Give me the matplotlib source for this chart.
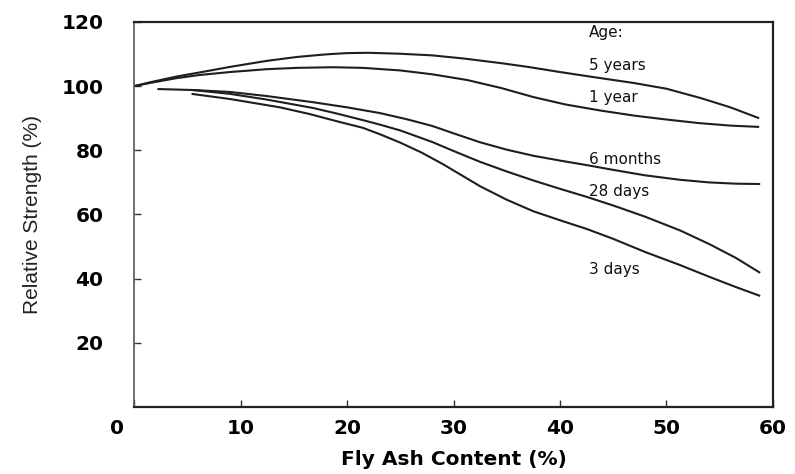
import matplotlib
matplotlib.use("Agg")
import matplotlib.pyplot as plt
from matplotlib.transforms import ScaledTranslation

# Data (Fly Ash Content %, Relative Strength %)
x_5y = [0, 1.5, 4, 6.2, 9, 12.5, 15.3, 18, 20, 22, 25, 28, 31, 34.4, 37, 40, 43, 46.9, 50, 53.2, 56, 58.7]
y_5y = [100, 101.2, 103.0, 104.3, 106, 107.9, 109.1, 109.9, 110.3, 110.4, 110.1, 109.6, 108.6, 107.2, 106.0, 104.4, 102.9, 101, 99.2, 96.3, 93.4, 90]

x_1y = [0, 1.5, 4, 6.2, 9, 12.5, 15.3, 18.7, 21.5, 25, 28, 31.3, 34.5, 37.5, 40.5, 43.8, 47, 50, 53, 56, 58.7]
y_1y = [100, 101.0, 102.5, 103.5, 104.4, 105.3, 105.7, 105.9, 105.7, 104.9, 103.7, 101.9, 99.4, 96.6, 94.3, 92.4, 90.8, 89.6, 88.5, 87.7, 87.3]

x_6m = [2.2, 5.5, 9, 12.5, 16.8, 20, 23.1, 25.6, 28, 30, 32.5, 35, 37.5, 40, 42.5, 45, 48, 51.3, 54, 56.5, 58.8]
y_6m = [99.1, 98.8, 98.2, 96.9, 95.0, 93.4, 91.6, 89.7, 87.6, 85.3, 82.5, 80.2, 78.3, 76.8, 75.4, 73.9, 72.2, 70.8, 70.0, 69.6, 69.5]

x_28d = [5.5, 9, 12.5, 16.8, 19, 21.5, 23.1, 25, 28, 30, 32.5, 35, 37.5, 40, 42.5, 45, 48, 51.3, 54, 56.5, 58.8]
y_28d = [98.8, 97.6, 95.8, 93.2, 91.5, 89.4, 88.0, 86.2, 82.6, 79.8, 76.4, 73.4, 70.6, 68.0, 65.5, 62.8, 59.3, 55.0, 50.8, 46.5, 41.8]

x_3d = [5.4, 9, 13.7, 16.5, 19, 21.5, 23.1, 25, 27, 29, 32.5, 35, 37.5, 40, 42.5, 45, 48, 51.3, 54, 56.5, 58.8]
y_3d = [97.6, 96.0, 93.4, 91.3, 89.1, 87.0, 85.0, 82.4, 79.3, 75.7, 68.8, 64.6, 61.0, 58.2, 55.5, 52.4, 48.3, 44.2, 40.6, 37.4, 34.6]

labels = ["Age:", "5 years", "1 year", "6 months", "28 days", "3 days"]
label_y = [116.6, 106.3, 96.6, 77.2, 67.2, 43.0]

x_ticks = [0, 10, 20, 30, 40, 50, 60]
y_ticks = [20, 40, 60, 80, 100, 120]

fig = plt.figure(figsize=(7.95, 4.74), dpi=100)
ax = fig.add_axes([0.1686, 0.1414, 0.8037, 0.8122])

lc = "#1e1e1e"
for xs, ys in [(x_5y, y_5y), (x_1y, y_1y), (x_6m, y_6m), (x_28d, y_28d), (x_3d, y_3d)]:
    ax.plot(xs, ys, color=lc, lw=1.5, solid_capstyle="butt", solid_joinstyle="round")

for t, yy in zip(labels, label_y):
    ax.text(42.7, yy, t, fontsize=11, family="DejaVu Sans", color="#111111",
            va="center", ha="left")

ax.set_xlim(0, 60)
ax.set_ylim(0, 120)
ax.set_xticks(x_ticks)
ax.set_yticks(y_ticks)
ax.set_xticklabels([str(v) for v in x_ticks], fontsize=14.5, fontweight="bold", family="DejaVu Sans")
ax.set_yticklabels([str(v) for v in y_ticks], fontsize=14.5, fontweight="bold", family="DejaVu Sans")
ax.tick_params(axis="both", direction="in", length=5, width=1, color="#333333")
ax.tick_params(axis="y", pad=22)
ax.tick_params(axis="x", pad=9)

# the origin label sits left of the axis corner in the reference
first = ax.get_xticklabels()[0]
first.set_transform(first.get_transform() + ScaledTranslation(-17 / 100, 0, fig.dpi_scale_trans))

for s in ax.spines.values():
    s.set_linewidth(1.6)
    s.set_color("#222222")
ax.spines["left"].set_color("#555555")
ax.spines["left"].set_linewidth(1.2)

ax.set_xlabel("Fly Ash Content (%)", fontsize=14.5, fontweight="bold", family="DejaVu Sans", labelpad=8)
ax.set_ylabel("Relative Strength (%)", fontsize=15,
              family=["Liberation Sans Narrow", "Liberation Sans", "DejaVu Sans"],
              color="#222222", labelpad=14)

fig.savefig("out.png", dpi=100)
